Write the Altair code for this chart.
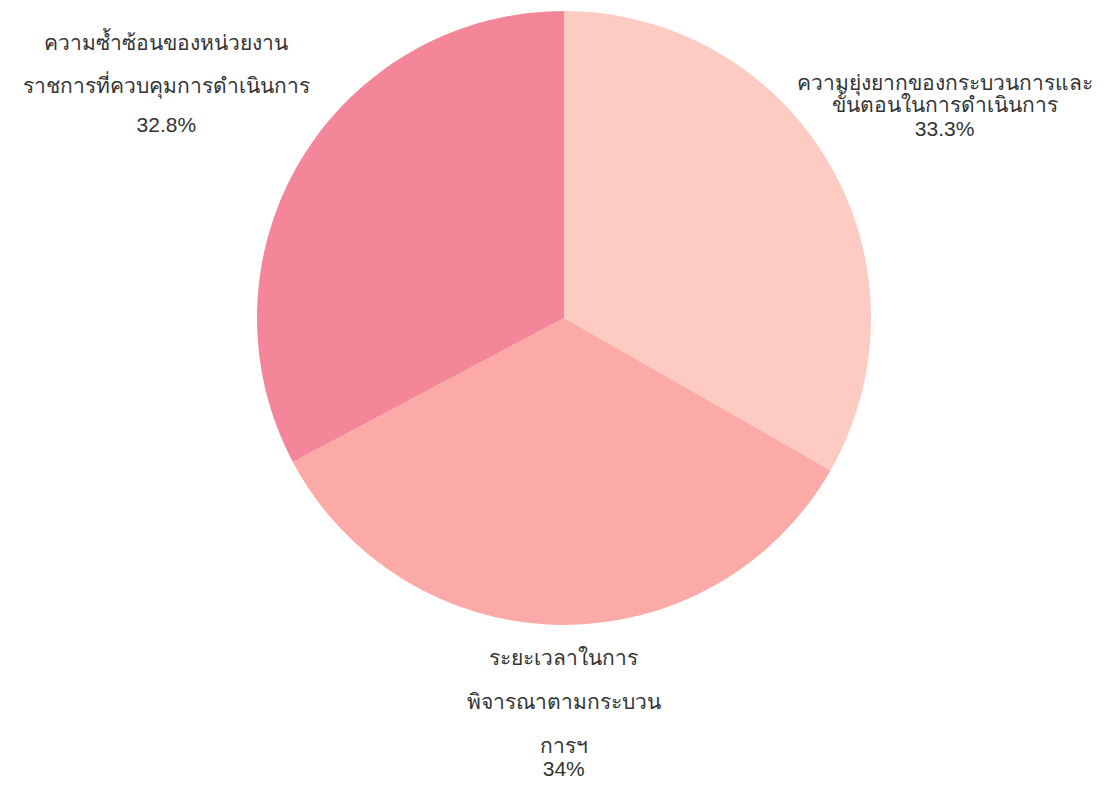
import altair as alt
import pandas as pd

categories = [
    "ความยุ่งยากของกระบวนการและขั้นตอนในการดำเนินการ",
    "ระยะเวลาในการพิจารณาตามกระบวนการฯ",
    "ความซ้ำซ้อนของหน่วยงานราชการที่ควบคุมการดำเนินการ",
]
name_lines = [
    ["ความยุ่งยากของกระบวนการและ", "ขั้นตอนในการดำเนินการ"],
    ["ระยะเวลาในการ", "พิจารณาตามกระบวน", "การฯ"],
    ["ความซ้ำซ้อนของหน่วยงาน", "ราชการที่ควบคุมการดำเนินการ"],
]
values = [33.3, 34.0, 32.8]
pct_labels = ["33.3%", "34%", "32.8%"]
colors = ["#FECBC2", "#FCAAA7", "#F38799"]

df = pd.DataFrame({
    "idx": list(range(len(categories))),
    "category": categories,
    "value": values,
    "name": ["\n".join(l) for l in name_lines],
    "pct": pct_labels,
})

CX, CY = 556, 310
R = 307

base = alt.Chart(df)

color_scale = alt.Scale(domain=categories, range=colors)

pie = base.mark_arc(outerRadius=R, stroke=None).encode(
    theta=alt.Theta("value:Q", stack=True),
    order=alt.Order("idx:Q", sort="ascending"),
    color=alt.Color("category:N", scale=color_scale, legend=None),
    x=alt.value(CX),
    y=alt.value(CY),
)

lab_base = base.transform_window(
    cum="sum(value)", sort=[alt.SortField("idx", order="ascending")]
).transform_calculate(
    mid="datum.cum - datum.value / 2"
)

FONT = "Liberation Sans"
TXT = "#333333"
FS = 21

# per-slice label settings: (radius, lineHeight, dx, dy name, dy pct)
settings = [
    (440, 22, 0, -13, 33),
    (400, 44, 6, -59, 52),
    (464, 43, 0, -35, 47),
]

layers = [pie]
for i, (rad, lh, dx, dyn, dyp) in enumerate(settings):
    sub = lab_base.transform_filter(f"datum.idx == {i}")
    name_t = sub.mark_text(
        radius=rad, fontSize=FS, font=FONT, color=TXT, lineBreak="\n",
        lineHeight=lh, align="center", baseline="middle", dx=dx, dy=dyn,
    ).encode(
        theta=alt.Theta("mid:Q", stack=None),
        text="name:N",
        x=alt.value(CX),
        y=alt.value(CY),
    )
    pct_t = sub.mark_text(
        radius=rad, fontSize=FS, font=FONT, color=TXT,
        align="center", baseline="middle", dx=dx, dy=dyp,
    ).encode(
        theta=alt.Theta("mid:Q", stack=None),
        text="pct:N",
        x=alt.value(CX),
        y=alt.value(CY),
    )
    layers += [name_t, pct_t]

chart = alt.layer(*layers).properties(
    width=1103, height=771, padding=0, autosize="none"
).configure_view(stroke=None)

chart.save("out.html", embed_options={"renderer": "svg", "actions": False})
